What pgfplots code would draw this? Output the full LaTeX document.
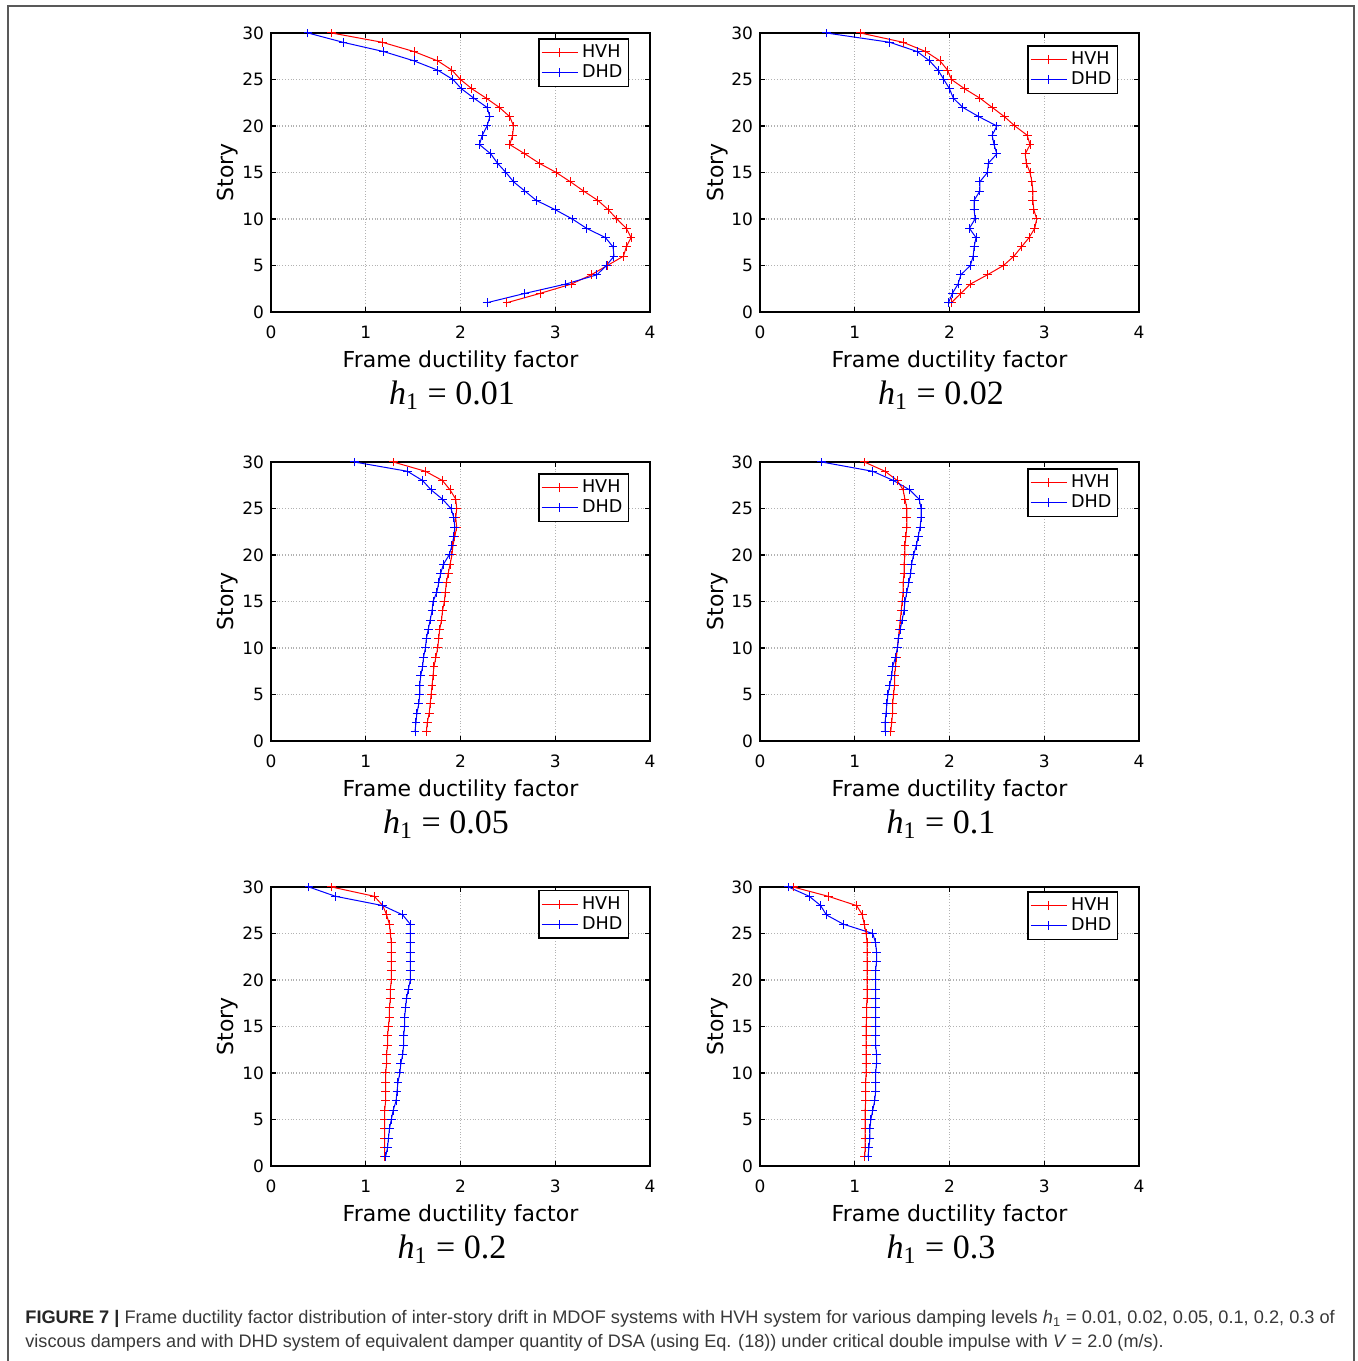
\documentclass[border=0pt]{standalone}
\usepackage{fontspec}
\setmainfont{Liberation Sans}
\newfontfamily\tms{Liberation Serif}
\newfontfamily\dvs{DejaVu Sans}
\usepackage{pgfplots}
\usepackage{pgfplotstable}
\pgfplotsset{compat=1.18}

\pgfdeclareplotmark{rplus}{%
  \pgfsetstrokecolor{red}\pgfsetlinewidth{0.5pt}%
  \pgfpathmoveto{\pgfqpoint{-\pgfplotmarksize}{0pt}}\pgfpathlineto{\pgfqpoint{\pgfplotmarksize}{0pt}}%
  \pgfpathmoveto{\pgfqpoint{0pt}{-\pgfplotmarksize}}\pgfpathlineto{\pgfqpoint{0pt}{\pgfplotmarksize}}%
  \pgfusepathqstroke}
\pgfdeclareplotmark{bplus}{%
  \pgfsetstrokecolor{blue}\pgfsetlinewidth{0.5pt}%
  \pgfpathmoveto{\pgfqpoint{-\pgfplotmarksize}{0pt}}\pgfpathlineto{\pgfqpoint{\pgfplotmarksize}{0pt}}%
  \pgfpathmoveto{\pgfqpoint{0pt}{-\pgfplotmarksize}}\pgfpathlineto{\pgfqpoint{0pt}{\pgfplotmarksize}}%
  \pgfusepathqstroke}

\pgfplotstableread{
s h d
30 0.64 0.39
29 1.175 0.76
28 1.51 1.19
27 1.76 1.51
26 1.91 1.76
25 2.00 1.92
24 2.12 2.01
23 2.27 2.14
22 2.41 2.28
21 2.52 2.31
20 2.56 2.28
19 2.55 2.23
18 2.52 2.20
17 2.68 2.32
16 2.83 2.39
15 3.01 2.48
14 3.16 2.56
13 3.30 2.68
12 3.45 2.80
11 3.56 3.00
10 3.65 3.18
9 3.75 3.33
8 3.80 3.53
7 3.75 3.61
6 3.72 3.62
5 3.55 3.54
4 3.38 3.44
3 3.17 3.11
2 2.84 2.68
1 2.49 2.28
}\tabA

\pgfplotstableread{
s h d
30 1.06 0.70
29 1.51 1.37
28 1.75 1.66
27 1.90 1.79
26 1.98 1.88
25 2.02 1.94
24 2.16 2.00
23 2.32 2.04
22 2.45 2.14
21 2.58 2.31
20 2.69 2.50
19 2.82 2.45
18 2.85 2.47
17 2.80 2.50
16 2.81 2.41
15 2.85 2.40
14 2.87 2.32
13 2.88 2.32
12 2.88 2.26
11 2.89 2.26
10 2.92 2.27
9 2.90 2.21
8 2.84 2.28
7 2.76 2.26
6 2.68 2.25
5 2.57 2.22
4 2.40 2.12
3 2.22 2.09
2 2.12 2.03
1 2.02 1.99
}\tabB

\pgfplotstableread{
s h d
30 1.29 0.88
29 1.63 1.44
28 1.81 1.60
27 1.89 1.69
26 1.95 1.81
25 1.96 1.90
24 1.95 1.93
23 1.96 1.94
22 1.94 1.93
21 1.92 1.91
20 1.91 1.88
19 1.89 1.82
18 1.87 1.79
17 1.85 1.77
16 1.84 1.75
15 1.83 1.71
14 1.81 1.70
13 1.80 1.68
12 1.78 1.66
11 1.77 1.64
10 1.76 1.63
9 1.74 1.61
8 1.72 1.60
7 1.71 1.58
6 1.70 1.57
5 1.69 1.57
4 1.68 1.56
3 1.67 1.54
2 1.65 1.53
1 1.64 1.52
}\tabC

\pgfplotstableread{
s h d
30 1.10 0.65
29 1.32 1.19
28 1.45 1.41
27 1.51 1.58
26 1.53 1.68
25 1.55 1.70
24 1.55 1.70
23 1.55 1.69
22 1.54 1.67
21 1.53 1.65
20 1.53 1.62
19 1.52 1.60
18 1.52 1.59
17 1.51 1.57
16 1.51 1.55
15 1.50 1.53
14 1.49 1.52
13 1.48 1.50
12 1.47 1.48
11 1.46 1.46
10 1.45 1.45
9 1.44 1.43
8 1.43 1.40
7 1.42 1.39
6 1.42 1.37
5 1.41 1.35
4 1.40 1.34
3 1.40 1.33
2 1.39 1.32
1 1.38 1.32
}\tabD

\pgfplotstableread{
s h d
30 0.64 0.40
29 1.09 0.68
28 1.18 1.18
27 1.22 1.39
26 1.25 1.47
25 1.26 1.47
24 1.27 1.47
23 1.27 1.47
22 1.27 1.47
21 1.27 1.47
20 1.27 1.47
19 1.26 1.45
18 1.26 1.43
17 1.25 1.42
16 1.25 1.41
15 1.24 1.41
14 1.23 1.40
13 1.23 1.40
12 1.22 1.39
11 1.22 1.37
10 1.21 1.36
9 1.21 1.34
8 1.21 1.33
7 1.21 1.32
6 1.20 1.29
5 1.20 1.27
4 1.20 1.25
3 1.20 1.24
2 1.20 1.23
1 1.20 1.21
}\tabE

\pgfplotstableread{
s h d
30 0.35 0.30
29 0.72 0.52
28 1.02 0.64
27 1.08 0.70
26 1.10 0.88
25 1.12 1.19
24 1.13 1.22
23 1.13 1.23
22 1.13 1.23
21 1.13 1.22
20 1.13 1.22
19 1.13 1.22
18 1.13 1.22
17 1.125 1.22
16 1.125 1.22
15 1.12 1.22
14 1.12 1.22
13 1.12 1.22
12 1.12 1.23
11 1.12 1.23
10 1.12 1.22
9 1.115 1.22
8 1.115 1.22
7 1.115 1.21
6 1.11 1.19
5 1.11 1.17
4 1.11 1.16
3 1.11 1.16
2 1.11 1.15
1 1.105 1.14
}\tabF

\definecolor{capgray}{rgb}{0.22,0.22,0.22}

\pgfplotsset{
  panel/.style={
    anchor=south west, scale only axis,
    width=189.5pt, height=139.5pt,
    xmin=0, xmax=4, ymin=0, ymax=30,
    xtick={0,1,2,3,4}, ytick={0,5,10,15,20,25,30},
    grid=major,
    major grid style={densely dotted, black!30, line width=0.6pt},
    tick align=inside, major tick length=2.6pt,
    tick style={black, line width=0.7pt},
    axis line style={line width=1pt},
    tick label style={font=\dvs\fontsize{8.5}{10}\selectfont},
    label style={font=\dvs\fontsize{11}{13}\selectfont},
    /pgf/number format/assume math mode=true,
    xticklabel style={yshift=-3.5pt},
    ylabel style={yshift=-5pt},
    xlabel style={yshift=1pt},
    xlabel={Frame ductility factor}, ylabel={Story},
    legend cell align=left,
    legend style={draw=black, line width=0.8pt, font=\dvs\fontsize{8.8}{10}\selectfont,
      inner sep=1pt, row sep=-2pt, anchor=north east},
    legend image code/.code={\draw[mark repeat=2,mark phase=2,#1] plot coordinates {(0pt,0pt) (9pt,0pt) (18pt,0pt)};},
  },
  hvh/.style={draw=red, line width=0.5pt, mark=rplus, mark size=2.2pt},
  dhd/.style={draw=blue, line width=0.5pt, mark=bplus, mark size=2.2pt},
}

\begin{document}
\begin{tikzpicture}[x=0.5pt,y=0.5pt]
\path[use as bounding box] (0,0) rectangle (1357,1361);
\draw[black!65, line width=0.8pt] (8,-5) -- (8,1355) -- (1354,1355) -- (1354,-5);

% Row 1
\begin{axis}[panel, at={(135.5pt,524.5pt)}, legend style={at={(0.945,0.982)}}]
\addplot[hvh] table[x=h,y=s]{\tabA}; \addlegendentry{HVH}
\addplot[dhd] table[x=d,y=s]{\tabA}; \addlegendentry{DHD}
\end{axis}
\node[font=\tms\fontsize{17}{19}\selectfont] at (452,966) {\textit{h}\textsubscript{1} = 0.01};

\begin{axis}[panel, at={(380pt,524.5pt)}, legend style={at={(0.945,0.957)}}]
\addplot[hvh] table[x=h,y=s]{\tabB}; \addlegendentry{HVH}
\addplot[dhd] table[x=d,y=s]{\tabB}; \addlegendentry{DHD}
\end{axis}
\node[font=\tms\fontsize{17}{19}\selectfont] at (941,966) {\textit{h}\textsubscript{1} = 0.02};

% Row 2
\begin{axis}[panel, at={(135.5pt,310pt)}, legend style={at={(0.945,0.96)}}]
\addplot[hvh] table[x=h,y=s]{\tabC}; \addlegendentry{HVH}
\addplot[dhd] table[x=d,y=s]{\tabC}; \addlegendentry{DHD}
\end{axis}
\node[font=\tms\fontsize{17}{19}\selectfont] at (446,537) {\textit{h}\textsubscript{1} = 0.05};

\begin{axis}[panel, at={(380pt,310pt)}, legend style={at={(0.945,0.978)}}]
\addplot[hvh] table[x=h,y=s]{\tabD}; \addlegendentry{HVH}
\addplot[dhd] table[x=d,y=s]{\tabD}; \addlegendentry{DHD}
\end{axis}
\node[font=\tms\fontsize{17}{19}\selectfont] at (941,537) {\textit{h}\textsubscript{1} = 0.1};

% Row 3
\begin{axis}[panel, at={(135.5pt,97.5pt)}, legend style={at={(0.945,0.99)}}]
\addplot[hvh] table[x=h,y=s]{\tabE}; \addlegendentry{HVH}
\addplot[dhd] table[x=d,y=s]{\tabE}; \addlegendentry{DHD}
\end{axis}
\node[font=\tms\fontsize{17}{19}\selectfont] at (452,112) {\textit{h}\textsubscript{1} = 0.2};

\begin{axis}[panel, at={(380pt,97.5pt)}, legend style={at={(0.945,0.986)}}]
\addplot[hvh] table[x=h,y=s]{\tabF}; \addlegendentry{HVH}
\addplot[dhd] table[x=d,y=s]{\tabF}; \addlegendentry{DHD}
\end{axis}
\node[font=\tms\fontsize{17}{19}\selectfont] at (941,112) {\textit{h}\textsubscript{1} = 0.3};

% Caption
\node[anchor=base west, inner sep=0pt, text=capgray, font=\fontsize{9.1}{11}\selectfont] at (25,37)
  {\textbf{\color{black!85}FIGURE 7 |} Frame ductility factor distribution of inter-story drift in MDOF systems with HVH system for various damping levels \textit{h}\textsubscript{1} = 0.01, 0.02, 0.05, 0.1, 0.2, 0.3 of};
\node[anchor=base west, inner sep=0pt, text=capgray, font=\fontsize{9.05}{11}\selectfont] at (25,13)
  {viscous dampers and with DHD system of equivalent damper quantity of DSA (using Eq. (18)) under critical double impulse with \textit{V} = 2.0 (m/s).};
\end{tikzpicture}
\end{document}
